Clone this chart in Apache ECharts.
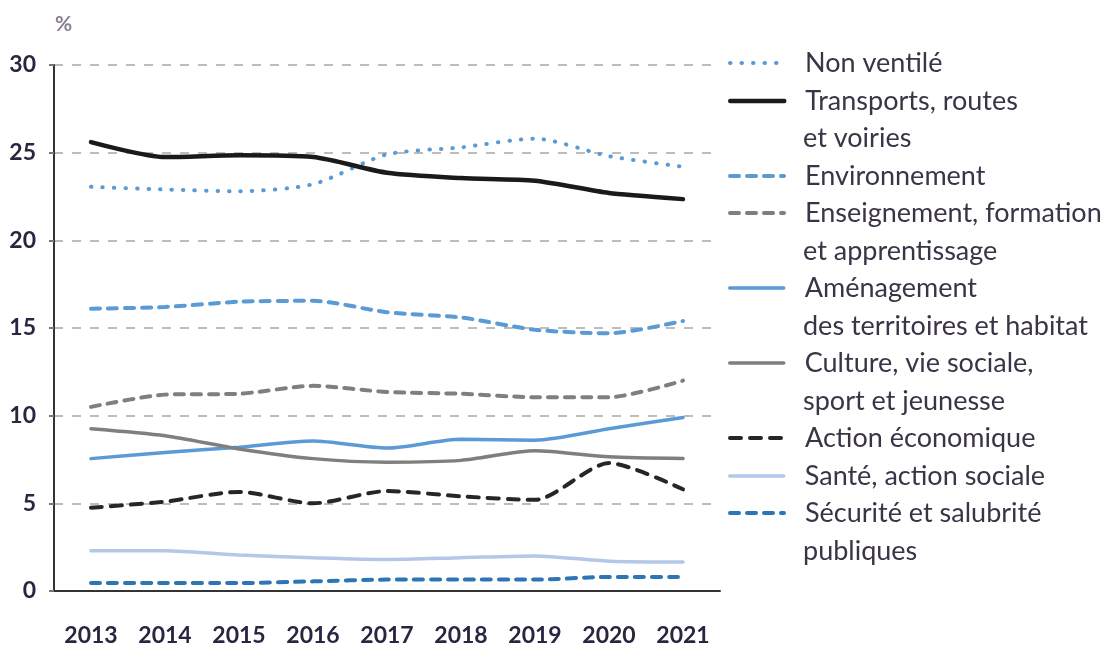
<!DOCTYPE html>
<html>
<head>
<meta charset="utf-8">
<script src="https://cdn.jsdelivr.net/npm/echarts@6/dist/echarts.min.js"></script>
<style>
  html, body { margin: 0; padding: 0; background: #fff; }
  #chart { width: 1107px; height: 649px; }
</style>
</head>
<body>
<div id="chart"></div>
<script>
// années
var years = ['2013', '2014', '2015', '2016', '2017', '2018', '2019', '2020', '2021'];

// parts en %
var nonVentile     = [23.05, 22.9, 22.8, 23.2, 24.9, 25.3, 25.8, 24.8, 24.2];
var transports     = [25.6, 24.75, 24.85, 24.75, 23.85, 23.55, 23.4, 22.7, 22.35];
var environnement  = [16.1, 16.2, 16.5, 16.55, 15.9, 15.6, 14.9, 14.7, 15.4];
var enseignement   = [10.5, 11.2, 11.25, 11.7, 11.35, 11.25, 11.05, 11.05, 12.0];
var amenagement    = [7.55, 7.9, 8.2, 8.55, 8.15, 8.65, 8.6, 9.25, 9.9];
var culture        = [9.25, 8.85, 8.1, 7.55, 7.35, 7.45, 8.0, 7.65, 7.55];
var actionEco      = [4.75, 5.1, 5.65, 5.0, 5.7, 5.4, 5.2, 7.3, 5.8];
var sante          = [2.3, 2.3, 2.05, 1.9, 1.8, 1.9, 2.0, 1.7, 1.65];
var securite       = [0.45, 0.45, 0.45, 0.55, 0.65, 0.65, 0.65, 0.8, 0.8];

var yTicks = [0, 5, 10, 15, 20, 25, 30];

var list = [
    {name: 'Non ventilé', lines: ['Non ventilé'], data: nonVentile, color: '#5b9bd5', width: 4, type: [0.5, 11]},
    {name: 'Transports, routes et voiries', lines: ['Transports, routes', 'et voiries'], data: transports, color: '#1a1a1a', width: 4.5, type: 'solid'},
    {name: 'Environnement', lines: ['Environnement'], data: environnement, color: '#5b9bd5', width: 4, type: [9, 8]},
    {name: 'Enseignement, formation et apprentissage', lines: ['Enseignement, formation', 'et apprentissage'], data: enseignement, color: '#7f7f7f', width: 4, type: [9, 8]},
    {name: 'Aménagement des territoires et habitat', lines: ['Aménagement', 'des territoires et habitat'], data: amenagement, color: '#5b9bd5', width: 3.5, type: 'solid'},
    {name: 'Culture, vie sociale, sport et jeunesse', lines: ['Culture, vie sociale,', 'sport et jeunesse'], data: culture, color: '#7f7f7f', width: 3.5, type: 'solid'},
    {name: 'Action économique', lines: ['Action économique'], data: actionEco, color: '#262626', width: 4, type: [11, 9]},
    {name: 'Santé, action sociale', lines: ['Santé, action sociale'], data: sante, color: '#b4c7e7', width: 3.5, type: 'solid'},
    {name: 'Sécurité et salubrité publiques', lines: ['Sécurité et salubrité', 'publiques'], data: securite, color: '#2e75b6', width: 4, type: [9, 8]}
];

var seriesList = [];
var legends = [];
var rowTop = 63;       // centre de la première ligne de légende
var rowStep = 37.5;
list.forEach(function (item) {
    seriesList.push({
        name: item.name,
        type: 'line',
        data: item.data,
        symbol: 'none',
        smooth: 0.25,
        lineStyle: {color: item.color, width: item.width, type: item.type, cap: 'round'},
        itemStyle: {color: item.color}
    });
    item.lines.forEach(function (txt, i) {
        legends.push({
            orient: 'vertical',
            left: 728,
            top: Math.round(rowTop - 15),
            padding: 0,
            itemWidth: 54,
            itemHeight: 14,
            icon: i === 0 ? undefined : 'none',
            itemStyle: {opacity: 0},
            lineStyle: {width: 'inherit'},
            data: [item.name],
            formatter: function () { return txt; },
            textStyle: {fontSize: 27, lineHeight: 30, color: '#3b3446', fontFamily: 'Lato', padding: [0, 0, 0, 16]}
        });
        rowTop += rowStep;
    });
});

var myChart = echarts.init(document.getElementById('chart'));
myChart.setOption({
    animation: false,
    textStyle: {fontFamily: 'Lato'},
    grid: {left: 54, right: 387, top: 65, bottom: 58},
    graphic: [{
        type: 'text', left: 55, top: 14,
        style: {text: '%', fill: '#8a7f93', font: 'bold 21px Lato'}
    }],
    legend: legends,
    xAxis: {
        type: 'category',
        data: years,
        boundaryGap: true,
        axisLine: {lineStyle: {color: '#333', width: 2}},
        axisTick: {alignWithLabel: true, length: 16, lineStyle: {color: '#555', width: 2}},
        axisLabel: {margin: 33, fontSize: 23, fontWeight: 'bold', color: '#2b2540', fontFamily: 'Lato'}
    },
    yAxis: {
        type: 'value',
        min: yTicks[0],
        max: yTicks[yTicks.length - 1],
        interval: 5,
        axisLine: {show: true, lineStyle: {color: '#333', width: 2}},
        axisTick: {show: true, length: 5, lineStyle: {color: '#777', width: 2}},
        axisLabel: {margin: 18, fontSize: 23, fontWeight: 'bold', color: '#2b2540', fontFamily: 'Lato'},
        splitLine: {lineStyle: {color: '#bdbdbd', width: 2, type: [9, 9]}}
    },
    series: seriesList
});
</script>
</body>
</html>
